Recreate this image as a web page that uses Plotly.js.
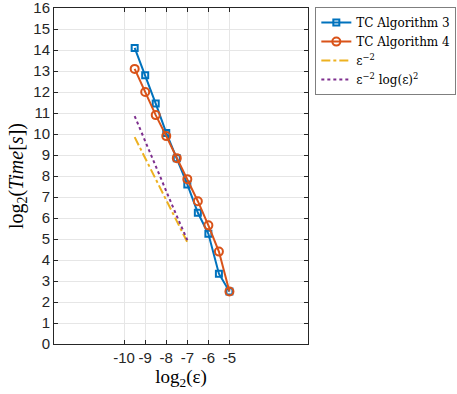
<!DOCTYPE html>
<html>
<head>
<meta charset="utf-8">
<script src="https://cdn.plot.ly/plotly-3.0.1.min.js"></script>
<style>
  html, body { margin: 0; padding: 0; background: #fff; }
  #chart { width: 457px; height: 394px; }
</style>
</head>
<body>
<div id="chart"></div>
<script>
// log2(eps) values for the two algorithms
var epsLog = [-9.5, -9, -8.5, -8, -7.5, -7, -6.5, -6, -5.5, -5];
var timeAlg3 = [14.1, 12.8, 11.45, 10.05, 8.85, 7.6, 6.25, 5.25, 3.35, 2.5];
var timeAlg4 = [13.1, 12.0, 10.9, 9.9, 8.85, 7.85, 6.8, 5.65, 4.4, 2.5];

// reference slopes
var refLog = [-9.5, -9, -8.5, -8, -7.5, -7];
var refEps2 = [9.85, 8.85, 7.85, 6.85, 5.85, 4.85];
var refEps2Log = [10.85, 9.64, 8.44, 7.25, 6.09, 4.95];

var xTicks = [-10, -9, -8, -7, -6, -5];
var yTicks = [0, 1, 2, 3, 4, 5, 6, 7, 8, 9, 10, 11, 12, 13, 14, 15, 16];

var alg3 = {
  x: epsLog, y: timeAlg3,
  name: 'TC Algorithm 3',
  type: 'scatter', mode: 'lines+markers',
  line: {color: '#0072BD', width: 2},
  marker: {symbol: 'square-open', size: 6, color: '#0072BD', line: {width: 2}}
};

var alg4 = {
  x: epsLog, y: timeAlg4,
  name: 'TC Algorithm 4',
  type: 'scatter', mode: 'lines+markers',
  line: {color: '#D95319', width: 2},
  marker: {symbol: 'circle-open', size: 8, color: '#D95319', line: {width: 2}}
};

var ref1 = {
  x: refLog, y: refEps2,
  name: 'ε<sup>−2</sup>',
  type: 'scatter', mode: 'lines',
  line: {color: '#EDB120', width: 2, dash: 'dashdot'}
};

var ref2 = {
  x: refLog, y: refEps2Log,
  name: 'ε<sup>−2</sup> log(ε)<sup>2</sup>',
  type: 'scatter', mode: 'lines',
  line: {color: '#7E2F8E', width: 2, dash: 'dot'}
};

var data = [alg3, alg4, ref1, ref2];

var tickFont = {family: 'Liberation Sans, Arial, sans-serif', size: 15, color: '#262626'};
var serif = 'DejaVu Serif, Liberation Serif, serif';

var layout = {
  width: 457, height: 394,
  margin: {l: 54, r: 149, t: 8, b: 50},
  paper_bgcolor: '#fff', plot_bgcolor: '#fff',
  showlegend: true,
  legend: {
    xref: 'container', yref: 'container',
    x: 0.69, y: 0.982, xanchor: 'left', yanchor: 'top',
    bordercolor: '#7f7f7f', borderwidth: 1, bgcolor: '#fff',
    font: {family: serif, size: 12, color: '#000'},
    tracegroupgap: 0, itemwidth: 30
  },
  xaxis: {
    range: [-13.33, -1.27],
    tickvals: xTicks, ticktext: xTicks.map(String),
    tickfont: tickFont,
    ticks: 'inside', ticklen: 4, tickcolor: '#262626',
    showgrid: true, gridcolor: '#e6e6e6', zeroline: false,
    showline: true, linecolor: '#262626', linewidth: 1, mirror: 'allticks',
    title: {text: 'log<sub>2</sub>(ε)', font: {family: 'Liberation Serif, serif', size: 19, color: '#000'}, standoff: 2}
  },
  yaxis: {
    range: [0, 16],
    tickvals: yTicks,
    tickfont: tickFont,
    ticklabeloverflow: 'allow',
    ticks: 'inside', ticklen: 4, tickcolor: '#262626',
    showgrid: true, gridcolor: '#e6e6e6', zeroline: false,
    showline: true, linecolor: '#262626', linewidth: 1, mirror: 'allticks',
    title: {text: 'log<sub>2</sub>(<i>Time</i>[<i>s</i>])', font: {family: 'Liberation Serif, serif', size: 20, color: '#000'}, standoff: 4}
  }
};

Plotly.newPlot('chart', data, layout, {displayModeBar: false, staticPlot: true});
</script>
</body>
</html>
